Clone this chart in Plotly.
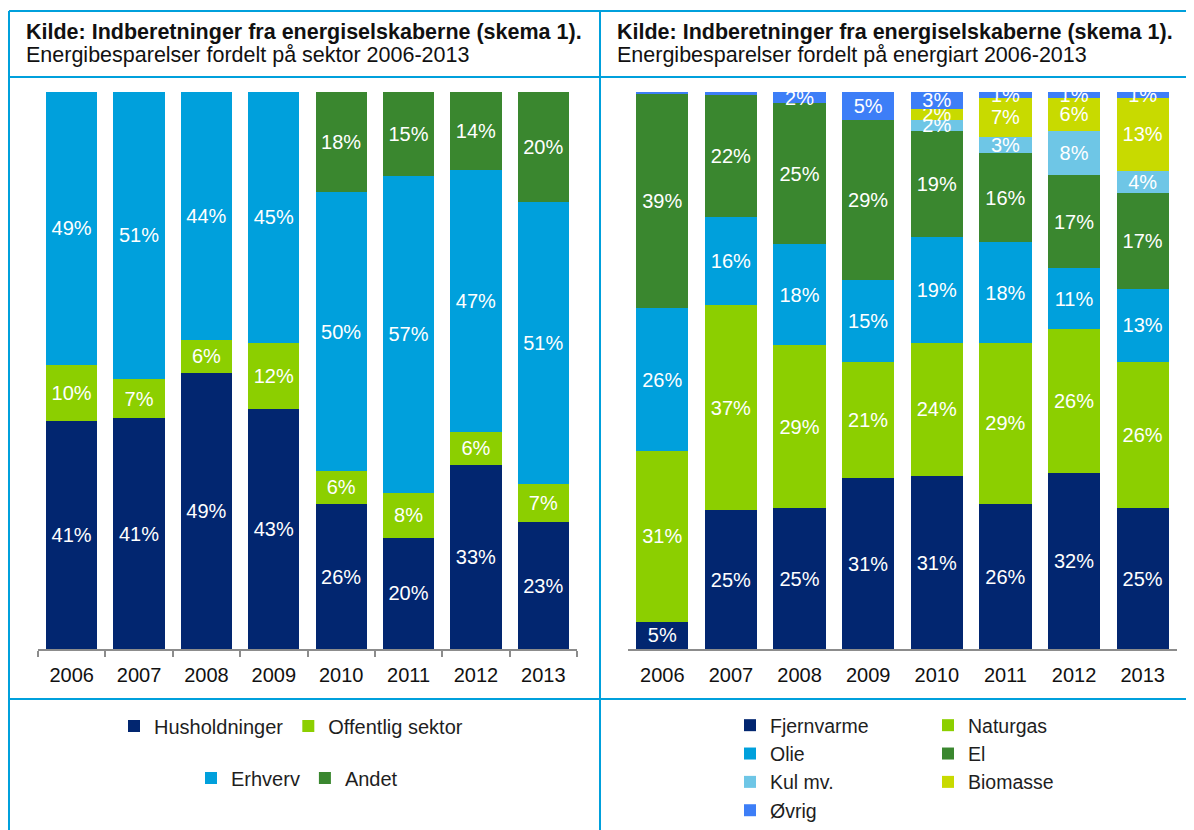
import plotly.graph_objects as go

W, H = 1194, 830

years = ["2006", "2007", "2008", "2009", "2010", "2011", "2012", "2013"]

# Panel 1: Energibesparelser fordelt på sektor (%)
husholdninger = [41, 41, 49, 43, 26, 20, 33, 23]
offentlig_sektor = [10, 7, 6, 12, 6, 8, 6, 7]
erhverv = [49, 51, 44, 45, 50, 57, 47, 51]
andet = [0, 0, 0, 0, 18, 15, 14, 20]

# Panel 2: Energibesparelser fordelt på energiart (%)
fjernvarme = [5, 25, 25, 31, 31, 26, 32, 25]
naturgas = [31, 37, 29, 21, 24, 29, 26, 26]
olie = [26, 16, 18, 15, 19, 18, 11, 13]
el = [39, 22, 25, 29, 19, 16, 17, 17]
kul = [0, 0, 0, 0, 2, 3, 8, 4]
biomasse = [0, 0, 0, 0, 2, 7, 6, 13]
ovrig = [0.4, 0.5, 2, 5, 3, 1, 1, 1]

title_bold = "Kilde: Indberetninger fra energiselskaberne (skema 1)."
title_left = "Energibesparelser fordelt på sektor 2006-2013"
title_right = "Energibesparelser fordelt på energiart 2006-2013"

NAVY = "#022670"
LIME = "#8CCF00"
CYAN = "#00A0DC"
GREEN = "#3A872F"
LIGHTBLUE = "#6EC6E6"
YELLOW = "#C8DA00"
BRIGHTBLUE = "#3D7EF7"
BORDER = "#00A0DC"
FONT = "Liberation Sans, Arial, sans-serif"

OFF = 8  # page body margin


def px(x):
    return (x - OFF) / W


def py(y):
    return 1 - (y - OFF) / H


def labels(vals):
    return [f"{v:g}%" if v >= 1 else "" for v in vals]


fig = go.Figure()

left_series = [
    ("Husholdninger", husholdninger, NAVY, "legend"),
    ("Offentlig sektor", offentlig_sektor, LIME, "legend"),
    ("Erhverv", erhverv, CYAN, "legend2"),
    ("Andet", andet, GREEN, "legend2"),
]
right_series = [
    ("Fjernvarme", fjernvarme, NAVY, "legend3"),
    ("Naturgas", naturgas, LIME, "legend4"),
    ("Olie", olie, CYAN, "legend3"),
    ("El", el, GREEN, "legend4"),
    ("Kul mv.", kul, LIGHTBLUE, "legend3"),
    ("Biomasse", biomasse, YELLOW, "legend4"),
    ("Øvrig", ovrig, BRIGHTBLUE, "legend3"),
]
for series, xa, ya in [(left_series, "x", "y"), (right_series, "x2", "y2")]:
    for name, vals, col, lg in series:
        fig.add_trace(go.Bar(
            x=years, y=vals, name=name, marker=dict(color=col, line=dict(width=0)),
            text=labels(vals), textposition="inside", insidetextanchor="middle",
            textangle=0, constraintext="none", cliponaxis=False,
            textfont=dict(color="white", size=20, family=FONT),
            xaxis=xa, yaxis=ya, legend=lg,
        ))

axis_common = dict(
    showline=True, linecolor="#8C8C8C", linewidth=2, showgrid=False,
    zeroline=False, ticks="outside", ticklen=6, tickwidth=2,
    tickson="boundaries", ticklabelstandoff=7,
    tickfont=dict(size=20, color="#111111", family=FONT),
    fixedrange=True,
)

leg_common = dict(
    bgcolor="rgba(0,0,0,0)", borderwidth=0, traceorder="normal",
    font=dict(size=20, color="#1E1E1E", family=FONT),
)
leg_right_font = dict(size=19.5, color="#1E1E1E", family=FONT)

fig.update_layout(
    width=W, height=H,
    margin=dict(l=0, r=0, t=0, b=0),
    paper_bgcolor="white", plot_bgcolor="white",
    font=dict(family=FONT),
    barmode="stack", barnorm="percent", bargap=0.24,
    xaxis=dict(domain=[px(38), px(577)], anchor="y", tickcolor="#8C8C8C", **axis_common),
    yaxis=dict(domain=[py(649), py(92)], range=[0, 100], visible=False, fixedrange=True),
    xaxis2=dict(domain=[px(628), px(1177)], anchor="y2", tickcolor="rgba(0,0,0,0)", **axis_common),
    yaxis2=dict(domain=[py(649), py(92)], range=[0, 100], visible=False, fixedrange=True),
    legend=dict(orientation="h", x=px(114), xanchor="left", y=py(726), yanchor="middle", **leg_common),
    legend2=dict(orientation="h", x=px(191), xanchor="left", y=py(778), yanchor="middle", **leg_common),
    legend3=dict(orientation="v", x=px(730), xanchor="left", y=py(706), yanchor="top",
                 **{**leg_common, "font": leg_right_font}),
    legend4=dict(orientation="v", x=px(928), xanchor="left", y=py(706), yanchor="top",
                 **{**leg_common, "font": leg_right_font}),
)

# Frame lines (table-like borders)
lines = [
    (9, 11, 1210, 11),
    (9, 77, 1210, 77),
    (9, 699, 1210, 699),
    (9, 11, 9, 845),
    (600, 11, 600, 845),
]
for x0, y0, x1, y1 in lines:
    fig.add_shape(type="line", xref="paper", yref="paper",
                  x0=px(x0), y0=py(y0), x1=px(x1), y1=py(y1),
                  line=dict(color=BORDER, width=2))

for xs, sub in [(24, title_left), (615, title_right)]:
    fig.add_annotation(xref="paper", yref="paper", x=px(xs), y=py(32),
                       xanchor="left", yanchor="middle", showarrow=False,
                       text=f"<b>{title_bold}</b>",
                       font=dict(size=21.5, color="#111111", family=FONT))
    fig.add_annotation(xref="paper", yref="paper", x=px(xs), y=py(55),
                       xanchor="left", yanchor="middle", showarrow=False,
                       text=sub, font=dict(size=21.5, color="#111111", family=FONT))

fig.write_html("out.html")
